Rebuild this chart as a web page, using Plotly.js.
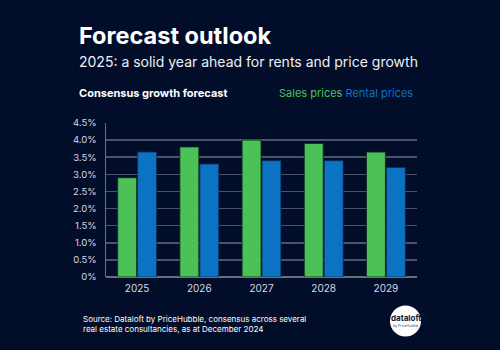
<!DOCTYPE html>
<html>
<head>
<meta charset="utf-8">
<script src="https://cdn.plot.ly/plotly-3.0.1.min.js"></script>
<style>
html,body{margin:0;padding:0;background:#020d29;}
#chart{width:500px;height:350px;}
</style>
</head>
<body>
<div id="chart"></div>
<script>
const years = ['2025', '2026', '2027', '2028', '2029'];
const salesPrices = [2.9, 3.8, 4.0, 3.9, 3.65];
const rentalPrices = [3.65, 3.3, 3.4, 3.4, 3.2];
const yTickVals = [0, 0.5, 1.0, 1.5, 2.0, 2.5, 3.0, 3.5, 4.0, 4.5];
const yTickText = ['0%', '0.5%', '1.0%', '1.5%', '2.0%', '2.5%', '3.0%', '3.5%', '4.0%', '4.5%'];

const W = 500, H = 350, L = 106, R = 83, T = 123, B = 73;
const pw = W - L - R, ph = H - T - B;
const px = x => (x - L) / pw;
const py = y => (H - B - y) / ph;

const font = 'Inter, "Noto Sans", Arial, sans-serif';
const green = '#4cc158';
const blue = '#0b73c2';

const traces = [
  {type: 'bar', name: 'Sales prices', x: years, y: salesPrices,
   marker: {color: green, line: {color: '#0d2a1a', width: 0.8}}, hoverinfo: 'x+y'},
  {type: 'bar', name: 'Rental prices', x: years, y: rentalPrices,
   marker: {color: blue, line: {color: '#0a2d5a', width: 0.8}}, hoverinfo: 'x+y'}
];

const ann = (x, y, text, size, color, opts) => Object.assign({
  xref: 'paper', yref: 'paper', x: px(x), y: py(y), text: text, showarrow: false,
  xanchor: 'left', yanchor: 'middle', font: {family: font, size: size, color: color}
}, opts || {});

const layout = {
  width: W, height: H,
  margin: {l: L, r: R, t: T, b: B},
  paper_bgcolor: '#020d29', plot_bgcolor: '#020d29',
  barmode: 'group', bargap: 0.36, bargroupgap: 0.05,
  showlegend: false,
  font: {family: font, color: '#d8dbe2'},
  xaxis: {
    type: 'category', showgrid: false, zeroline: false, showline: false,
    ticks: '', tickfont: {size: 10, color: '#d8dbe2', family: font}, ticklabelstandoff: 4
  },
  yaxis: {
    range: [0, 4.5], tickvals: yTickVals, ticktext: yTickText,
    showgrid: true, gridcolor: '#4d5266', gridwidth: 1.5,
    zeroline: true, zerolinecolor: '#6a6f80', zerolinewidth: 1.5,
    showline: true, linecolor: '#6a6f80', linewidth: 1.5,
    ticks: '', tickfont: {size: 9.5, color: '#d8dbe2', family: font}, ticklabelstandoff: 6
  },
  annotations: [
    ann(77, 35, '<b>Forecast outlook</b>', 23.5, '#ffffff'),
    ann(77, 61.5, '2025: a solid year ahead for rents and price growth', 14, '#eef0f4'),
    ann(77, 93, '<b>Consensus growth forecast</b>', 11, '#ffffff'),
    ann(415, 93, '<span style="color:' + green + '">Sales prices</span> <span style="color:' + blue + '">Rental prices</span>', 11, green, {xanchor: 'right'}),
    ann(81, 323.5, 'Source: Dataloft by PriceHubble, consensus across several<br>real estate consultancies, as at December 2024', 8, '#ffffff', {align: 'left'}),
    ann(405.5, 318, '<b>dataloft</b>', 8, '#0a1a3a', {xanchor: 'center'}),
    ann(405.5, 326, 'by PriceHubble', 3.5, '#1a4fa0', {xanchor: 'center'})
  ],
  shapes: [
    {type: 'circle', xref: 'paper', yref: 'paper',
     x0: px(390), x1: px(421), y0: py(305.5), y1: py(336.5),
     fillcolor: '#ffffff', line: {width: 0}}
  ]
};

Plotly.newPlot('chart', traces, layout, {displayModeBar: false, staticPlot: true});
</script>
</body>
</html>
